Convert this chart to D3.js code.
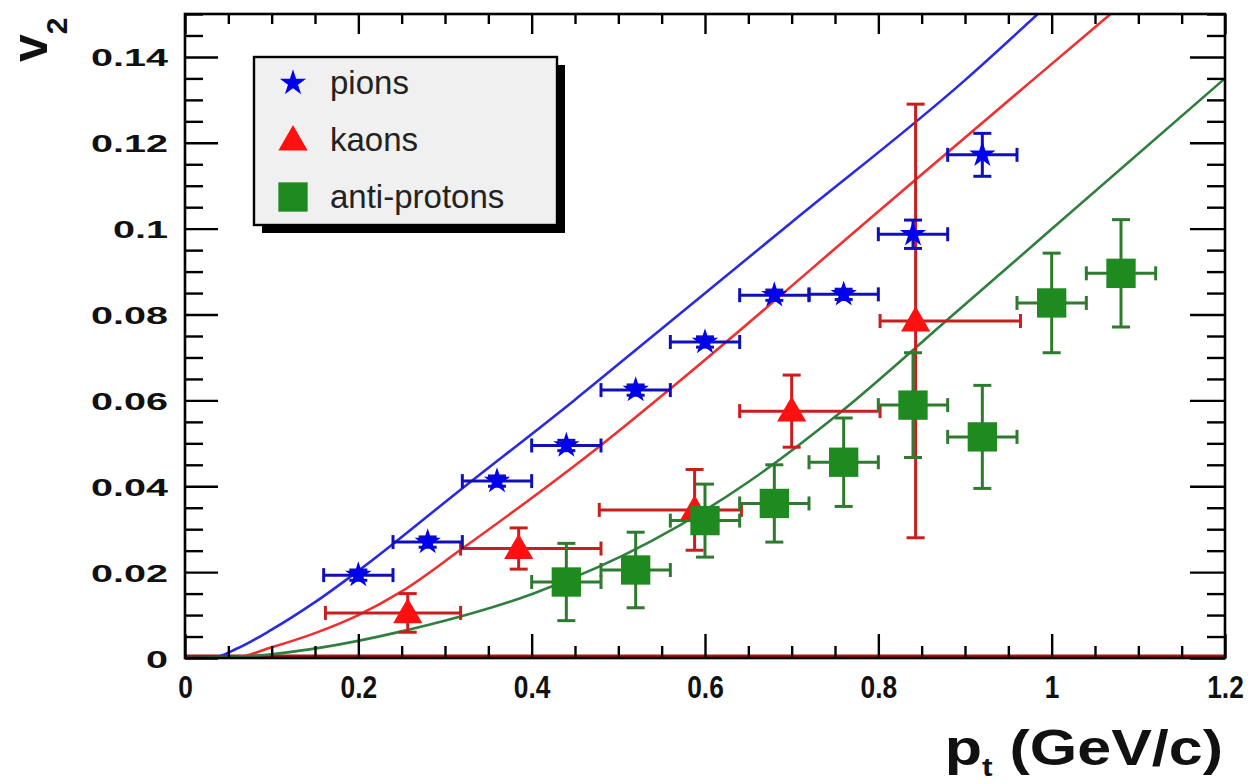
<!DOCTYPE html>
<html>
<head>
<meta charset="utf-8">
<script src="https://cdn.jsdelivr.net/npm/d3@7"></script>
<style>
  html, body { margin: 0; padding: 0; background: #fff; }
  svg { display: block; font-family: "Liberation Sans", Arial, Helvetica, sans-serif; }
</style>
</head>
<body>
<svg id="chart" width="1258" height="784"></svg>
<script>
// ---- measured elliptic flow v2 vs transverse momentum ----
const pionPt      = [0.20, 0.28, 0.36, 0.44, 0.52, 0.60, 0.68, 0.76, 0.84, 0.92];
const pionV2      = [0.0193, 0.0270, 0.0412, 0.0495, 0.0624, 0.0736, 0.0845, 0.0847, 0.0987, 0.1172];
const pionErrPt   = [0.04, 0.04, 0.04, 0.04, 0.04, 0.04, 0.04, 0.04, 0.04, 0.04];
const pionErrV2   = [0.0012, 0.0012, 0.0012, 0.0012, 0.0012, 0.0012, 0.0012, 0.0012, 0.0033, 0.0050];

const kaonPt      = [0.257, 0.385, 0.588, 0.700, 0.843];
const kaonV2      = [0.0105, 0.0255, 0.0345, 0.0575, 0.0785];
const kaonPtLow   = [0.162, 0.318, 0.478, 0.640, 0.802];
const kaonPtHigh  = [0.318, 0.480, 0.642, 0.802, 0.964];
const kaonErrV2   = [0.0045, 0.0048, 0.0094, 0.0084, 0.0505];

const pbarPt      = [0.44, 0.52, 0.60, 0.68, 0.76, 0.84, 0.92, 1.00, 1.08];
const pbarV2      = [0.0177, 0.0205, 0.0320, 0.0360, 0.0456, 0.0589, 0.0515, 0.0827, 0.0896];
const pbarErrPt   = [0.04, 0.04, 0.04, 0.04, 0.04, 0.04, 0.04, 0.04, 0.04];
const pbarErrV2   = [0.0090, 0.0088, 0.0085, 0.0090, 0.0103, 0.0122, 0.0120, 0.0116, 0.0125];

// ---- hydrodynamic (blast-wave) curves, sampled ----
const pionCurvePt = [0, 0.03, 0.06, 0.10, 0.15, 0.20, 0.318, 0.449, 0.538, 0.70, 0.90, 0.984];
const pionCurveV2 = [0, 0.0, 0.0022, 0.0066, 0.0130, 0.0203, 0.0392, 0.0600, 0.0747, 0.1015, 0.1346, 0.1500];
const kaonCurvePt = [0, 0.055, 0.10, 0.15, 0.20, 0.25, 0.318, 0.477, 0.576, 0.80, 0.978, 1.068];
const kaonCurveV2 = [0, 0.0, 0.0025, 0.0058, 0.0100, 0.0155, 0.0252, 0.0491, 0.0654, 0.1040, 0.1346, 0.1500];
const pbarCurvePt = [0, 0.08, 0.153, 0.25, 0.403, 0.538, 0.65, 0.755, 0.885, 1.00, 1.20];
const pbarCurveV2 = [0, 0.0005, 0.0023, 0.0062, 0.0151, 0.0272, 0.0410, 0.0570, 0.0797, 0.0999, 0.1350];

// ---- axes ticks ----
const xMajor = [0, 0.2, 0.4, 0.6, 0.8, 1.0, 1.2];
const xMajorLabels = ["0", "0.2", "0.4", "0.6", "0.8", "1", "1.2"];
const yMajor = [0, 0.02, 0.04, 0.06, 0.08, 0.10, 0.12, 0.14];
const yMajorLabels = ["0", "0.02", "0.04", "0.06", "0.08", "0.1", "0.12", "0.14"];
const legendLabels = ["pions", "kaons", "anti-protons"];

// ---- colours ----
const blue = "#0000f0", blueBar = "#1010b8";
const red = "#ff1010", redBar = "#c81e1e";
const green = "#1f8a1f", greenBar = "#2e7a2e";
const blueLine = "#2a2ae0", redLine = "#f03030", greenLine = "#2f7f3f";

const svg = d3.select("#chart");
const frame = { left: 185, right: 1225, top: 14, bottom: 658 };

const x = d3.scaleLinear().domain([0, 1.2]).range([frame.left, frame.right]);
const y = d3.scaleLinear().domain([0, 0.15]).range([frame.bottom, frame.top]);

svg.append("defs").append("clipPath").attr("id", "plotClip")
  .append("rect").attr("x", frame.left).attr("y", frame.top)
  .attr("width", frame.right - frame.left).attr("height", frame.bottom - frame.top);

const plot = svg.append("g").attr("clip-path", "url(#plotClip)");

// zero line along the bottom
plot.append("line")
  .attr("x1", x(0)).attr("x2", x(1.2)).attr("y1", y(0) - 1.5).attr("y2", y(0) - 1.5)
  .attr("stroke", "#b01010").attr("stroke-width", 4);

// curves
const line = d3.line().x(d => x(d[0])).y(d => y(d[1])).curve(d3.curveMonotoneX);
[[pionCurvePt, pionCurveV2, blueLine], [kaonCurvePt, kaonCurveV2, redLine], [pbarCurvePt, pbarCurveV2, greenLine]]
  .forEach(([px, py, c]) => {
    plot.append("path").datum(px.map((v, i) => [v, py[i]]))
      .attr("d", line).attr("fill", "none").attr("stroke", c).attr("stroke-width", 2.6);
  });

// error bars with end caps
function errorBars(g, rows, color) {
  const capH = 14, capV = 18;
  rows.forEach(r => {
    const b = g.append("g").attr("stroke", color).attr("stroke-width", 3).attr("fill", "none");
    const cx = x(r.pt), cy = y(r.v2);
    const xl = x(r.lo), xh = x(r.hi);
    const yt = y(r.v2 + r.ey), yb = y(r.v2 - r.ey);
    b.append("line").attr("x1", xl).attr("x2", xh).attr("y1", cy).attr("y2", cy);
    b.append("line").attr("x1", xl).attr("x2", xl).attr("y1", cy - capH / 2).attr("y2", cy + capH / 2);
    b.append("line").attr("x1", xh).attr("x2", xh).attr("y1", cy - capH / 2).attr("y2", cy + capH / 2);
    b.append("line").attr("x1", cx).attr("x2", cx).attr("y1", yt).attr("y2", yb);
    b.append("line").attr("x1", cx - capV / 2).attr("x2", cx + capV / 2).attr("y1", yt).attr("y2", yt);
    b.append("line").attr("x1", cx - capV / 2).attr("x2", cx + capV / 2).attr("y1", yb).attr("y2", yb);
  });
}

const pionRows = pionPt.map((p, i) => ({ pt: p, v2: pionV2[i], lo: p - pionErrPt[i], hi: p + pionErrPt[i], ey: pionErrV2[i] }));
const kaonRows = kaonPt.map((p, i) => ({ pt: p, v2: kaonV2[i], lo: kaonPtLow[i], hi: kaonPtHigh[i], ey: kaonErrV2[i] }));
const pbarRows = pbarPt.map((p, i) => ({ pt: p, v2: pbarV2[i], lo: p - pbarErrPt[i], hi: p + pbarErrPt[i], ey: pbarErrV2[i] }));

const starSym = d3.symbol().type(d3.symbolStar).size(215);
const triSym = d3.symbol().type(d3.symbolTriangle).size(370);
const sqSym = d3.symbol().type(d3.symbolSquare).size(860);

// kaons first, anti-protons over them, pions on top
const gK = svg.append("g");
errorBars(gK, kaonRows, redBar);
gK.selectAll("path.pt").data(kaonRows).join("path").attr("class", "pt")
  .attr("transform", d => `translate(${x(d.pt)},${y(d.v2) + 2})`).attr("d", triSym).attr("fill", red);

const gP = svg.append("g");
errorBars(gP, pbarRows, greenBar);
gP.selectAll("path.pt").data(pbarRows).join("path").attr("class", "pt")
  .attr("transform", d => `translate(${x(d.pt)},${y(d.v2)})`).attr("d", sqSym).attr("fill", green);

const gPi = svg.append("g");
errorBars(gPi, pionRows, blueBar);
gPi.selectAll("path.pt").data(pionRows).join("path").attr("class", "pt")
  .attr("transform", d => `translate(${x(d.pt)},${y(d.v2)})`).attr("d", starSym).attr("fill", blue);

// ---- axes: ticks inside the frame on all sides ----
function tickAxis(gen, transform, values, size) {
  const g = svg.append("g").attr("transform", transform)
    .call(gen.tickValues(values).tickSize(size).tickFormat(""));
  g.select(".domain").remove();
  g.selectAll("line").attr("stroke", "#000").attr("stroke-width", 2.4);
  return g;
}
const xMinor = d3.range(0, 25).map(i => +(i * 0.05).toFixed(2)).filter(v => !xMajor.includes(v));
const yMinor = d3.range(0, 31).map(i => +(i * 0.005).toFixed(3)).filter(v => !yMajor.some(m => Math.abs(m - v) < 1e-9));

tickAxis(d3.axisBottom(x), `translate(0,${frame.bottom})`, xMajor, -24);
tickAxis(d3.axisBottom(x), `translate(0,${frame.bottom})`, xMinor, -12);
tickAxis(d3.axisTop(x), `translate(0,${frame.top})`, xMajor, -20);
tickAxis(d3.axisTop(x), `translate(0,${frame.top})`, xMinor, -10);
tickAxis(d3.axisLeft(y), `translate(${frame.left},0)`, yMajor, -33);
tickAxis(d3.axisLeft(y), `translate(${frame.left},0)`, yMinor, -18);
tickAxis(d3.axisRight(y), `translate(${frame.right},0)`, yMajor, -35);
tickAxis(d3.axisRight(y), `translate(${frame.right},0)`, yMinor, -18);

// frame
svg.append("rect").attr("x", frame.left).attr("y", frame.top)
  .attr("width", frame.right - frame.left).attr("height", frame.bottom - frame.top)
  .attr("fill", "none").attr("stroke", "#000").attr("stroke-width", 2.6);

// tick labels
const xl = svg.append("g").attr("transform", `translate(0,${frame.bottom})`)
  .call(d3.axisBottom(x).tickValues(xMajor).tickSize(0).tickPadding(0)
    .tickFormat((d, i) => xMajorLabels[i]));
xl.select(".domain").remove();
xl.selectAll("text").attr("font-size", 31).attr("font-weight", "bold").attr("font-family", "Liberation Sans, Arial, sans-serif")
  .attr("fill", "#111").attr("y", 0).attr("dy", 0)
  .attr("transform", "translate(0,40) scale(0.85,1)");

const yl = svg.append("g").attr("transform", `translate(${frame.left},0)`)
  .call(d3.axisLeft(y).tickValues(yMajor).tickSize(0).tickPadding(0)
    .tickFormat((d, i) => yMajorLabels[i]));
yl.select(".domain").remove();
yl.selectAll("text").attr("font-size", 24).attr("font-weight", "bold").attr("font-family", "Liberation Sans, Arial, sans-serif")
  .attr("fill", "#111").attr("x", 0).attr("dy", 0)
  .attr("transform", "translate(-17,9) scale(1.65,1)");

// axis titles
const yt = svg.append("text").attr("transform", "translate(47,62) rotate(-90)")
  .attr("font-weight", "bold").attr("fill", "#111");
yt.append("tspan").attr("font-size", 50).text("v");
yt.append("tspan").attr("font-size", 30).attr("dy", 20).text("2");

const xt = svg.append("text").attr("transform", "translate(1223,765) scale(1.22,1)")
  .attr("text-anchor", "end").attr("font-weight", "bold").attr("fill", "#111");
xt.append("tspan").attr("font-size", 50).text("p");
xt.append("tspan").attr("font-size", 26).attr("dy", 11).text("t");
xt.append("tspan").attr("font-size", 50).attr("dy", -11).text(" (GeV/c)");

// legend
const lg = svg.append("g");
lg.append("rect").attr("x", 262).attr("y", 65).attr("width", 303).attr("height", 168).attr("fill", "#000");
lg.append("rect").attr("x", 254).attr("y", 57).attr("width", 303).attr("height", 168)
  .attr("fill", "#f0f0f0").attr("stroke", "#000").attr("stroke-width", 2.4);
const legendSyms = [[starSym, blue], [triSym, red], [sqSym, green]];
legendLabels.forEach((lab, i) => {
  const cy = 83 + i * 57;
  lg.append("path").attr("transform", `translate(293,${cy + (i === 1 ? 2 : 0)})`)
    .attr("d", legendSyms[i][0]).attr("fill", legendSyms[i][1]);
  lg.append("text").attr("x", 330).attr("y", cy + 11).attr("font-size", 33)
    .attr("fill", "#222").text(lab);
});
</script>
</body>
</html>
